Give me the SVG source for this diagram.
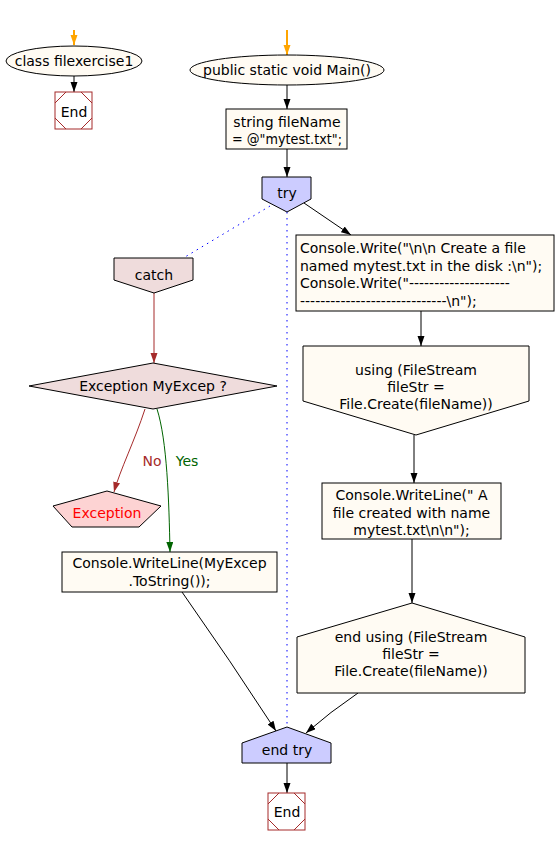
<svg xmlns="http://www.w3.org/2000/svg" width="557" height="846" viewBox="0 0 557 846">
<defs>
<style>
text{font-family:"DejaVu Sans","Liberation Sans",sans-serif;font-size:14px;fill:#000;text-anchor:middle}
.box{fill:#fffbf3;stroke:#000;stroke-width:1}
.blue{fill:#ccccff;stroke:#000;stroke-width:1}
.pink{fill:#efdcdc;stroke:#000;stroke-width:1}
.end{fill:#fff;stroke:#a52a2a;stroke-width:1}
.e{fill:none;stroke:#000;stroke-width:1}
.eb{fill:none;stroke:#000;stroke-width:1;marker-end:url(#ab)}
.eo{fill:none;stroke:#ffa500;stroke-width:2;marker-end:url(#ao)}
.er{fill:none;stroke:#a52a2a;stroke-width:1;marker-end:url(#ar)}
.eg{fill:none;stroke:#006400;stroke-width:1;marker-end:url(#ag)}
.ed{fill:none;stroke:#0000ff;stroke-width:1;stroke-dasharray:1.5 4.5}
</style>
<marker id="ab" markerUnits="userSpaceOnUse" markerWidth="10" markerHeight="8" refX="10" refY="3.5" orient="auto"><path d="M0,0 L10,3.5 L0,7 z" fill="#000"/></marker>
<marker id="ao" markerUnits="userSpaceOnUse" markerWidth="10" markerHeight="8" refX="10" refY="3.5" orient="auto"><path d="M0,0 L10,3.5 L0,7 z" fill="#ffa500"/></marker>
<marker id="ar" markerUnits="userSpaceOnUse" markerWidth="10" markerHeight="8" refX="10" refY="3.5" orient="auto"><path d="M0,0 L10,3.5 L0,7 z" fill="#a52a2a"/></marker>
<marker id="ag" markerUnits="userSpaceOnUse" markerWidth="10" markerHeight="8" refX="10" refY="3.5" orient="auto"><path d="M0,0 L10,3.5 L0,7 z" fill="#006400"/></marker>
</defs>
<rect width="557" height="846" fill="#fff"/>
<g id="connectors">
<line class="eo" x1="74" y1="30" x2="74" y2="45"/>
<line class="eb" x1="74" y1="76" x2="74" y2="92"/>
<line class="eo" x1="287" y1="30" x2="287" y2="55"/>
<line class="eb" x1="287" y1="85" x2="287" y2="109"/>
<line class="eb" x1="287" y1="149" x2="287" y2="177"/>
<line class="eb" x1="304" y1="203" x2="351" y2="235"/>
<line class="ed" x1="270" y1="206" x2="185" y2="257"/>
<line class="ed" x1="287" y1="212" x2="287" y2="727"/>
<line class="eb" x1="421" y1="311" x2="421" y2="346"/>
<line class="eb" x1="414" y1="435" x2="414" y2="483"/>
<line class="eb" x1="412" y1="539" x2="412" y2="603"/>
<path class="eb" d="M358,693 Q330,712 306,733"/>
<line class="eb" x1="287" y1="763" x2="287" y2="793"/>
<line class="er" x1="154" y1="293" x2="154" y2="363"/>
<path class="er" d="M145,409 C135,440 120,470 114,492"/>
<path class="eg" d="M157,409 C167,440 169,500 170,552"/>
<path class="eb" d="M182,592 Q230,660 276,731"/>
<text x="152" y="466" style="fill:#a52a2a">No</text>
<text x="187" y="466" style="fill:#006400">Yes</text>
</g>
<g id="class">
<ellipse class="box" cx="74" cy="61" rx="68" ry="15"/>
<text x="74" y="66">class filexercise1</text>
</g>
<g id="end1">
<rect class="end" x="55" y="92" width="37" height="37"/>
<path d="M66,92 L55,103 M81,92 L92,103 M55,118 L66,129 M92,118 L81,129" stroke="#a52a2a" fill="none"/>
<text x="74" y="117">End</text>
</g>
<g id="main">
<ellipse class="box" cx="287" cy="70" rx="97" ry="15"/>
<text x="287" y="75">public static void Main()</text>
</g>
<g id="filename">
<rect class="box" x="226" y="109" width="121" height="40"/>
<text x="287" y="127">string fileName</text>
<text x="287" y="144" textLength="110" lengthAdjust="spacingAndGlyphs">= @"mytest.txt";</text>
</g>
<g id="try">
<polygon class="blue" points="262,177 311,177 311,199 287,212 262,199"/>
<text x="287" y="198">try</text>
</g>
<g id="write">
<rect class="box" x="296" y="235" width="258" height="76"/>
<text x="300" y="253" style="text-anchor:start">Console.Write("\n\n Create a file</text>
<text x="300" y="270.5" style="text-anchor:start">named mytest.txt in the disk :\n");</text>
<text x="300" y="288" style="text-anchor:start">Console.Write("--------------------</text>
<text x="300" y="305.5" style="text-anchor:start">-----------------------------\n");</text>
</g>
<g id="using">
<polygon class="box" points="303,346 529,346 529,401 416,435 303,401"/>
<text x="416" y="375">using (FileStream</text>
<text x="416" y="392">fileStr =</text>
<text x="416" y="409">File.Create(fileName))</text>
</g>
<g id="writeline">
<rect class="box" x="322" y="483" width="179" height="56"/>
<text x="411.5" y="500">Console.WriteLine(" A</text>
<text x="411.5" y="518">file created with name</text>
<text x="411.5" y="535">mytest.txt\n\n");</text>
</g>
<g id="endusing">
<polygon class="box" points="412,603 525,637 525,693 297,693 297,637"/>
<text x="411" y="642">end using (FileStream</text>
<text x="411" y="659">fileStr =</text>
<text x="411" y="676">File.Create(fileName))</text>
</g>
<g id="catch">
<polygon class="pink" points="114,258 193,258 193,280 154,293 114,280"/>
<text x="154" y="280">catch</text>
</g>
<g id="decision">
<polygon class="pink" points="29,386 153,363 277,386 153,409"/>
<text x="153" y="391">Exception MyExcep ?</text>
</g>
<g id="exception">
<polygon points="107,491 161,506 139,527 72,527 53,506" fill="#fdd3d3" stroke="#000"/>
<text x="107" y="518" style="fill:#ff0000">Exception</text>
</g>
<g id="writeexcep">
<rect class="box" x="62" y="552" width="215" height="40"/>
<text x="169.5" y="568">Console.WriteLine(MyExcep</text>
<text x="169.5" y="586">.ToString());</text>
</g>
<g id="endtry">
<polygon class="blue" points="287,727 331,743 331,763 242,763 242,743"/>
<text x="287" y="755">end try</text>
</g>
<g id="end2">
<rect class="end" x="268" y="793" width="37" height="37"/>
<path d="M279,793 L268,804 M294,793 L305,804 M268,819 L279,830 M305,819 L294,830" stroke="#a52a2a" fill="none"/>
<text x="287" y="817">End</text>
</g>
</svg>
